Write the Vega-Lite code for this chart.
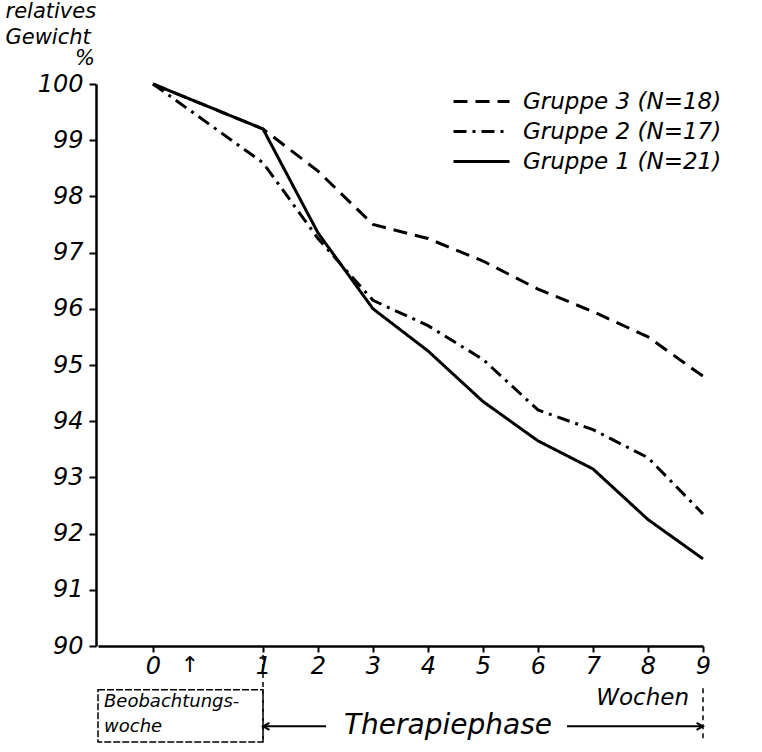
{
  "$schema": "https://vega.github.io/schema/vega-lite/v6.json",
  "autosize": "none",
  "width": 624,
  "height": 562,
  "padding": {"left": 96, "top": 84, "right": 42, "bottom": 106},
  "background": "white",
  "config": {
    "view": {"stroke": null},
    "font": "DejaVu Sans",
    "text": {"font": "DejaVu Sans", "fontStyle": "italic", "color": "black"}
  },
  "layer": [
    {
      "data": {"values": [
        {"woche": "0", "gruppe": "Gruppe 3 (N=18)", "gewicht": 100},
        {"woche": "1", "gruppe": "Gruppe 3 (N=18)", "gewicht": 99.2},
        {"woche": "2", "gruppe": "Gruppe 3 (N=18)", "gewicht": 98.45},
        {"woche": "3", "gruppe": "Gruppe 3 (N=18)", "gewicht": 97.5},
        {"woche": "4", "gruppe": "Gruppe 3 (N=18)", "gewicht": 97.25},
        {"woche": "5", "gruppe": "Gruppe 3 (N=18)", "gewicht": 96.85},
        {"woche": "6", "gruppe": "Gruppe 3 (N=18)", "gewicht": 96.35},
        {"woche": "7", "gruppe": "Gruppe 3 (N=18)", "gewicht": 95.95},
        {"woche": "8", "gruppe": "Gruppe 3 (N=18)", "gewicht": 95.5},
        {"woche": "9", "gruppe": "Gruppe 3 (N=18)", "gewicht": 94.8},
        {"woche": "0", "gruppe": "Gruppe 2 (N=17)", "gewicht": 100},
        {"woche": "1", "gruppe": "Gruppe 2 (N=17)", "gewicht": 98.6},
        {"woche": "2", "gruppe": "Gruppe 2 (N=17)", "gewicht": 97.25},
        {"woche": "3", "gruppe": "Gruppe 2 (N=17)", "gewicht": 96.15},
        {"woche": "4", "gruppe": "Gruppe 2 (N=17)", "gewicht": 95.7},
        {"woche": "5", "gruppe": "Gruppe 2 (N=17)", "gewicht": 95.1},
        {"woche": "6", "gruppe": "Gruppe 2 (N=17)", "gewicht": 94.2},
        {"woche": "7", "gruppe": "Gruppe 2 (N=17)", "gewicht": 93.85},
        {"woche": "8", "gruppe": "Gruppe 2 (N=17)", "gewicht": 93.35},
        {"woche": "9", "gruppe": "Gruppe 2 (N=17)", "gewicht": 92.35},
        {"woche": "0", "gruppe": "Gruppe 1 (N=21)", "gewicht": 100},
        {"woche": "1", "gruppe": "Gruppe 1 (N=21)", "gewicht": 99.2},
        {"woche": "2", "gruppe": "Gruppe 1 (N=21)", "gewicht": 97.35},
        {"woche": "3", "gruppe": "Gruppe 1 (N=21)", "gewicht": 96.0},
        {"woche": "4", "gruppe": "Gruppe 1 (N=21)", "gewicht": 95.25},
        {"woche": "5", "gruppe": "Gruppe 1 (N=21)", "gewicht": 94.35},
        {"woche": "6", "gruppe": "Gruppe 1 (N=21)", "gewicht": 93.65},
        {"woche": "7", "gruppe": "Gruppe 1 (N=21)", "gewicht": 93.15},
        {"woche": "8", "gruppe": "Gruppe 1 (N=21)", "gewicht": 92.25},
        {"woche": "9", "gruppe": "Gruppe 1 (N=21)", "gewicht": 91.55}
      ]},
      "mark": {"type": "line", "color": "black", "strokeWidth": 3},
      "encoding": {
        "x": {
          "field": "woche", "type": "ordinal",
          "scale": {"type": "point", "domain": ["", "0", "↑", "1", "2", "3", "4", "5", "6", "7", "8", "9"], "range": [2, 607], "padding": 0},
          "axis": {
            "values": ["0", "1", "2", "3", "4", "5", "6", "7", "8", "9"],
            "title": null, "labelAngle": 0,
            "domainColor": "black", "domainWidth": 2.5,
            "tickColor": "black", "tickWidth": 2, "tickSize": 6,
            "labelFont": "DejaVu Sans", "labelFontStyle": "italic", "labelFontSize": 24, "labelColor": "black", "labelPadding": 2
          }
        },
        "y": {
          "field": "gewicht", "type": "quantitative",
          "scale": {"domain": [90, 100], "nice": false, "zero": false},
          "axis": {
            "values": [90, 91, 92, 93, 94, 95, 96, 97, 98, 99, 100],
            "format": "d", "grid": false,
            "domainColor": "black", "domainWidth": 2.5,
            "tickColor": "black", "tickWidth": 2, "tickSize": 7,
            "labelFont": "DejaVu Sans", "labelFontStyle": "italic", "labelFontSize": 24, "labelColor": "black", "labelPadding": 6,
            "title": ["relatives", "Gewicht"],
            "titleAngle": 0, "titleAlign": "left", "titleBaseline": "top",
            "titleX": -91, "titleY": -84,
            "titleFont": "DejaVu Sans", "titleFontStyle": "italic", "titleFontWeight": "normal", "titleFontSize": 21, "titleLineHeight": 26, "titleColor": "black"
          }
        },
        "strokeDash": {
          "field": "gruppe", "type": "nominal",
          "scale": {"domain": ["Gruppe 3 (N=18)", "Gruppe 2 (N=17)", "Gruppe 1 (N=21)"], "range": [[14, 8], [13, 6, 3, 6], [1, 0]]},
          "legend": {
            "title": null, "orient": "none", "legendX": 370, "legendY": 2,
            "symbolType": "M-2,0L2,0", "symbolSize": 784, "symbolStrokeWidth": 3, "symbolStrokeColor": "black",
            "labelFont": "DejaVu Sans", "labelFontStyle": "italic", "labelFontSize": 23, "labelColor": "black",
            "labelLimit": 0, "labelOffset": 26, "rowPadding": 2
          }
        }
      }
    },
    {
      "data": {"values": [{}]},
      "mark": {"type": "text", "text": "%", "fontSize": 21, "dx": -13, "dy": -25, "align": "center", "baseline": "middle"},
      "encoding": {"x": {"datum": "", "type": "ordinal"}, "y": {"datum": 100, "type": "quantitative"}}
    },
    {
      "data": {"values": [{}]},
      "mark": {"type": "text", "text": "↑", "fontSize": 22, "dx": -18, "align": "center", "baseline": "middle", "color": "black"},
      "encoding": {"x": {"datum": "↑", "type": "ordinal"}, "y": {"datum": 89.66, "type": "quantitative"}}
    },
    {
      "data": {"values": [{}]},
      "mark": {"type": "rect", "fillOpacity": 0, "stroke": "black", "strokeWidth": 1.5, "strokeDash": [7, 2]},
      "encoding": {"x": {"datum": "", "type": "ordinal"}, "x2": {"datum": "1"}, "y": {"datum": 89.22, "type": "quantitative"}, "y2": {"datum": 88.29}}
    },
    {
      "data": {"values": [{}]},
      "mark": {"type": "text", "text": "Beobachtungs-", "fontSize": 18, "dx": 6, "align": "left", "baseline": "middle"},
      "encoding": {"x": {"datum": "", "type": "ordinal"}, "y": {"datum": 89.0, "type": "quantitative"}}
    },
    {
      "data": {"values": [{}]},
      "mark": {"type": "text", "text": "woche", "fontSize": 18, "dx": 6, "align": "left", "baseline": "middle"},
      "encoding": {"x": {"datum": "", "type": "ordinal"}, "y": {"datum": 88.56, "type": "quantitative"}}
    },
    {
      "data": {"values": [{}]},
      "mark": {"type": "rule", "color": "black", "strokeWidth": 1.5, "strokeDash": [5, 4]},
      "encoding": {"x": {"datum": "1", "type": "ordinal"}, "y": {"datum": 89.84, "type": "quantitative"}, "y2": {"datum": 88.29}}
    },
    {
      "data": {"values": [{}]},
      "mark": {"type": "rule", "color": "black", "strokeWidth": 1.5, "strokeDash": [5, 4]},
      "encoding": {"x": {"datum": "9", "type": "ordinal"}, "y": {"datum": 89.25, "type": "quantitative"}, "y2": {"datum": 88.29}}
    },
    {
      "data": {"values": [{}]},
      "mark": {"type": "rule", "color": "black", "strokeWidth": 2, "x2Offset": 8},
      "encoding": {"x": {"datum": "1", "type": "ordinal"}, "x2": {"datum": "2"}, "y": {"datum": 88.57, "type": "quantitative"}}
    },
    {
      "data": {"values": [{}]},
      "mark": {"type": "rule", "color": "black", "strokeWidth": 2, "xOffset": 84},
      "encoding": {"x": {"datum": "5", "type": "ordinal"}, "x2": {"datum": "9"}, "y": {"datum": 88.57, "type": "quantitative"}}
    },
    {
      "data": {"values": [{}]},
      "mark": {"type": "point", "shape": "M1.6,-0.9L0,0L1.6,0.9", "filled": false, "stroke": "black", "strokeWidth": 2, "size": 64, "opacity": 1},
      "encoding": {"x": {"datum": "1", "type": "ordinal"}, "y": {"datum": 88.57, "type": "quantitative"}}
    },
    {
      "data": {"values": [{}]},
      "mark": {"type": "point", "shape": "M-1.6,-0.9L0,0L-1.6,0.9", "filled": false, "stroke": "black", "strokeWidth": 2, "size": 64, "opacity": 1},
      "encoding": {"x": {"datum": "9", "type": "ordinal"}, "y": {"datum": 88.57, "type": "quantitative"}}
    },
    {
      "data": {"values": [{}]},
      "mark": {"type": "text", "text": "Therapiephase", "fontSize": 28, "dx": 20, "align": "center", "baseline": "middle"},
      "encoding": {"x": {"datum": "4", "type": "ordinal"}, "y": {"datum": 88.57, "type": "quantitative"}}
    },
    {
      "data": {"values": [{}]},
      "mark": {"type": "text", "text": "Wochen", "fontSize": 23, "dx": -14, "align": "right", "baseline": "middle"},
      "encoding": {"x": {"datum": "9", "type": "ordinal"}, "y": {"datum": 89.07, "type": "quantitative"}}
    }
  ]
}
